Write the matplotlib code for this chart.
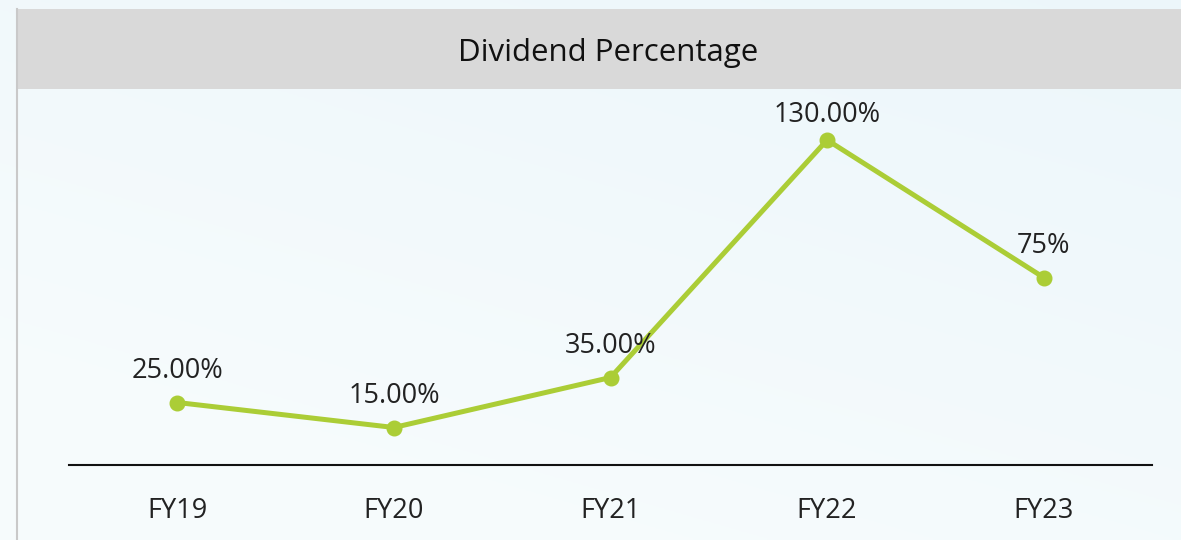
import numpy as np
import matplotlib.pyplot as plt
from matplotlib.patches import Rectangle
from matplotlib.lines import Line2D

years = ["FY19", "FY20", "FY21", "FY22", "FY23"]
dividend = [25, 15, 35, 130, 75]
labels = ["25.00%", "15.00%", "35.00%", "130.00%", "75%"]

plt.rcParams['font.family'] = ['Open Sans', 'DejaVu Sans']

W, H = 1181, 540
fig = plt.figure(figsize=(W / 100, H / 100), dpi=100)

# pale blue backdrop, a bit stronger towards the top right
bg = fig.add_axes([0, 0, 1, 1], zorder=-5)
gy, gx = np.mgrid[0:1:200j, 0:1:400j]
t = np.clip(0.55 * gy + 0.35 * gx - 0.2, 0, 1)
top = np.array([0.91, 0.96, 0.98])
low = np.array([0.965, 0.985, 0.99])
img = low * (1 - t[..., None]) + top * t[..., None]
bg.imshow(img, extent=[0, 1, 0, 1], origin='lower', aspect='auto')
bg.set_axis_off()

# grey title band and thin left frame edge
fig.patches.append(Rectangle((17 / W, 1 - 89 / H), 1, 80 / H, transform=fig.transFigure,
                             facecolor='#d9d9d9', edgecolor='none', zorder=0))
fig.lines.append(Line2D([16.5 / W, 16.5 / W], [0, 1 - 9 / H], transform=fig.transFigure,
                        color='#c9c9c9', lw=1.5, zorder=1))
fig.text(608 / W, 1 - 53 / H, "Dividend Percentage", ha='center', va='center',
         fontsize=22.5, color='#111111')

ax = fig.add_axes([69 / W, 75 / H, (1152 - 69) / W, (465 - 89) / H])
ax.patch.set_alpha(0)
x = np.arange(len(years))
ax.plot(x, dividend, color='#abcd36', lw=3.6, marker='o', markersize=10.5,
        solid_capstyle='round', clip_on=False)
# the top label sits closer to its point so it stays under the title band
offsets = [23, 23, 23, 18, 23]
for xi, v, lab, off in zip(x, dividend, labels, offsets):
    ax.annotate(lab, (xi, v), xytext=(0, off), textcoords='offset points',
                ha='center', va='center', fontsize=19.5, color='#222222')

ax.set_xlim(-0.5, len(years) - 0.5)
ax.set_ylim(0, 150.4)
ax.set_xticks(x)
ax.set_xticklabels(years, fontsize=19.5, color='#222222')
ax.set_yticks([])
ax.tick_params(axis='x', length=0, pad=23)
for s in ['top', 'right', 'left']:
    ax.spines[s].set_visible(False)
ax.spines['bottom'].set_linewidth(1.5)
ax.spines['bottom'].set_color('#111111')

fig.savefig('out.png', dpi=100)
